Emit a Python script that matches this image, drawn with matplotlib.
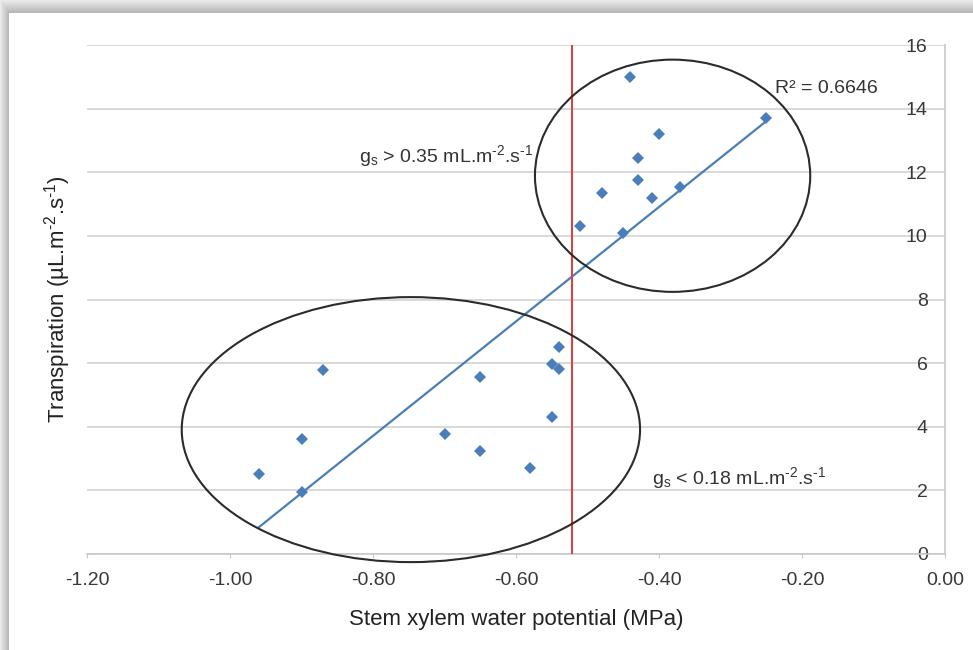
import numpy as np
import matplotlib
matplotlib.use("Agg")
import matplotlib.pyplot as plt
from matplotlib.patches import Ellipse

plt.rcParams['font.family'] = ['Liberation Sans', 'DejaVu Sans']
plt.rcParams['mathtext.fontset'] = 'custom'
plt.rcParams['mathtext.rm'] = 'Liberation Sans'
plt.rcParams['mathtext.it'] = 'Liberation Sans'
plt.rcParams['axes.unicode_minus'] = False

# high conductance group (gs > 0.35)
x_high = [-0.44, -0.25, -0.40, -0.43, -0.43, -0.48, -0.41, -0.37, -0.51, -0.45]
y_high = [15.0, 13.7, 13.2, 12.45, 11.75, 11.35, 11.2, 11.55, 10.3, 10.1]

# low conductance group (gs < 0.18)
x_low = [-0.96, -0.90, -0.90, -0.87, -0.70, -0.65, -0.65, -0.58, -0.55, -0.55, -0.54, -0.54]
y_low = [2.52, 1.95, 3.62, 5.78, 3.78, 5.57, 3.23, 2.70, 4.32, 5.97, 5.80, 6.50]

threshold = -0.522
r2_label = "R² = 0.6646"
x_ticks = [-1.2, -1.0, -0.8, -0.6, -0.4, -0.2, 0.0]
y_ticks = [0, 2, 4, 6, 8, 10, 12, 14, 16]

blue = '#4a7ebb'
hy = '\u2010'  # short hyphen for the exponents
unit = 'mL.m$^\\mathregular{' + hy + '2}$.s$^\\mathregular{' + hy + '1}$'

fig = plt.figure(figsize=(9.73, 6.5), dpi=100)

# grey drop shadow along the top and left border (transparent elsewhere)
H, W = 650, 973
yy, xx = np.mgrid[0:H, 0:W]
top = np.clip((13 - yy) / 13.0, 0, 1)
left = np.clip((9 - xx) / 9.0, 0, 1)
shade = np.maximum(top, left)
grey = 0.70 + 0.22 * shade
alpha = ((yy < 13) | (xx < 9)).astype(float)
img = np.dstack([grey, grey, grey, alpha])
fig.figimage(img, xo=0, yo=0, origin='upper', zorder=10)

ax = fig.add_axes([87 / 973, 96 / 650, 858 / 973, 509 / 650])
ax.set_facecolor('none')

x_all = np.array(x_high + x_low)
y_all = np.array(y_high + y_low)
slope, icpt = np.polyfit(x_all, y_all, 1)
xs = np.array([x_all.min(), x_all.max()])

ax.plot(xs, slope * xs + icpt, color=blue, lw=1.6, zorder=3)
ax.plot(x_all, y_all, 'D', color=blue, markersize=6.2, markeredgewidth=0, zorder=4)
ax.axvline(threshold, color='#e03a3a', lw=1.4, zorder=3)

ax.add_patch(Ellipse((-0.381, 11.89), 0.385, 7.30, fill=False,
                     edgecolor='#2b2b2b', lw=1.5, zorder=5, clip_on=False))
ax.add_patch(Ellipse((-0.747, 3.91), 0.641, 8.33, fill=False,
                     edgecolor='#2b2b2b', lw=1.5, zorder=5, clip_on=False))

ax.text(-0.238, 14.62, r2_label, fontsize=14, color='#333333', va='center', ha='left')
ax.text(-0.82, 12.5, r'g$_\mathregular{s}$ > 0.35 ' + unit,
        fontsize=14, color='#333333', va='center', ha='left')
ax.text(-0.41, 2.39, r'g$_\mathregular{s}$ < 0.18 ' + unit,
        fontsize=14, color='#333333', va='center', ha='left')

ax.set_xlim(-1.2, 0.0)
ax.set_ylim(0, 16)
ax.set_xticks(x_ticks)
ax.set_xticklabels([f'{v:.2f}' for v in x_ticks])
ax.set_yticks(y_ticks)

ax.grid(axis='y', color='#d6d6d6', lw=1.3)
ax.set_axisbelow(True)
for s in ['top', 'left']:
    ax.spines[s].set_visible(False)
ax.spines['bottom'].set_color('#c8c8c8')
ax.spines['right'].set_color('#c8c8c8')
ax.spines['bottom'].set_linewidth(1.2)
ax.spines['right'].set_linewidth(1.2)

ax.yaxis.tick_right()
ax.tick_params(axis='y', length=0, pad=-12.5, labelsize=14, labelcolor='#383838')
plt.setp(ax.get_yticklabels(), ha='right')
ax.tick_params(axis='x', length=3, color='#c8c8c8', pad=10, labelsize=14, labelcolor='#383838')

ax.set_xlabel('Stem xylem water potential (MPa)', fontsize=16, color='#222222', labelpad=14)
ax.set_ylabel('Transpiration (µL.m$^\\mathregular{' + hy + '2}$.s$^\\mathregular{' + hy + '1}$)',
              fontsize=16, color='#222222', labelpad=10)
ax.yaxis.set_label_position('left')

fig.savefig('out.png', dpi=100)
